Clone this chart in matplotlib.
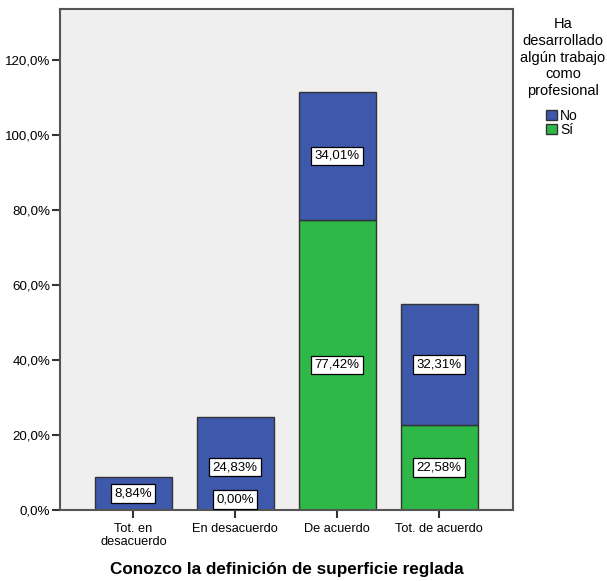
import numpy as np
import matplotlib
matplotlib.use("Agg")
import matplotlib.pyplot as plt
from matplotlib.patches import Patch

plt.rcParams['font.family'] = ['Liberation Sans', 'DejaVu Sans']

categories = ["Tot. en\ndesacuerdo", "En desacuerdo", "De acuerdo", "Tot. de acuerdo"]
si_vals = [0.0, 0.0, 77.42, 22.58]
no_vals = [8.84, 24.83, 34.01, 32.31]
si_labels = [None, "0,00%", "77,42%", "22,58%"]
no_labels = ["8,84%", "24,83%", "34,01%", "32,31%"]
yticks = [0, 20, 40, 60, 80, 100, 120]

blue = "#3E58AC"
green = "#2EB848"

fig = plt.figure(figsize=(6.07, 5.81), dpi=100)
ax = fig.add_axes([0.0988, 0.1222, 0.7463, 0.8623])
ax.set_facecolor("#EFEFEF")

x = np.arange(len(categories))
w = 0.755
ax.bar(x, si_vals, w, color=green, edgecolor="#333333", linewidth=1, zorder=2)
ax.bar(x, no_vals, w, bottom=si_vals, color=blue, edgecolor="#333333", linewidth=1, zorder=2)

box = dict(boxstyle="square,pad=0.25", fc="white", ec="black", lw=0.9)
for i in range(len(x)):
    if si_labels[i] is not None:
        yy = si_vals[i] / 2 if si_vals[i] > 6 else 2.8
        ax.text(x[i], yy, si_labels[i], ha="center", va="center", fontsize=9.5, bbox=box, zorder=3)
    ax.text(x[i], si_vals[i] + no_vals[i] / 2 - (1 if i == 1 else 0),
            no_labels[i], ha="center", va="center", fontsize=9.5, bbox=box, zorder=3)

ax.set_xlim(-0.72, 3.725)
ax.set_ylim(0, 133.6)
ax.set_xticks(x)
ax.set_xticklabels(categories, fontsize=9.2, linespacing=1.15)
ax.set_yticks(yticks)
ax.set_yticklabels([f"{v:.1f}%".replace(".", ",") for v in yticks], fontsize=9.6)
ax.tick_params(axis="both", length=6, width=1.5, color="#333333", direction="out")
ax.tick_params(axis="x", pad=3)
ax.tick_params(axis="y", pad=1)
for s in ax.spines.values():
    s.set_color("#555555")
    s.set_linewidth(1.5)

ax.set_xlabel("Conozco la definición de superficie reglada", fontsize=12.3, fontweight="bold", labelpad=10)

fig.text(0.9275, 0.970, "Ha\ndesarrollado\nalgún trabajo\ncomo\nprofesional",
         ha="center", va="top", fontsize=10.5, linespacing=1.24)
handles = [Patch(facecolor=blue, edgecolor="#333333", label="No"),
           Patch(facecolor=green, edgecolor="#333333", label="Sí")]
fig.legend(handles=handles, loc="upper left", bbox_to_anchor=(0.900, 0.813),
           frameon=False, fontsize=10, handlelength=0.8, handleheight=0.8,
           handletextpad=0.2, labelspacing=0.0, borderpad=0, borderaxespad=0)

fig.savefig("out.png", dpi=100)
